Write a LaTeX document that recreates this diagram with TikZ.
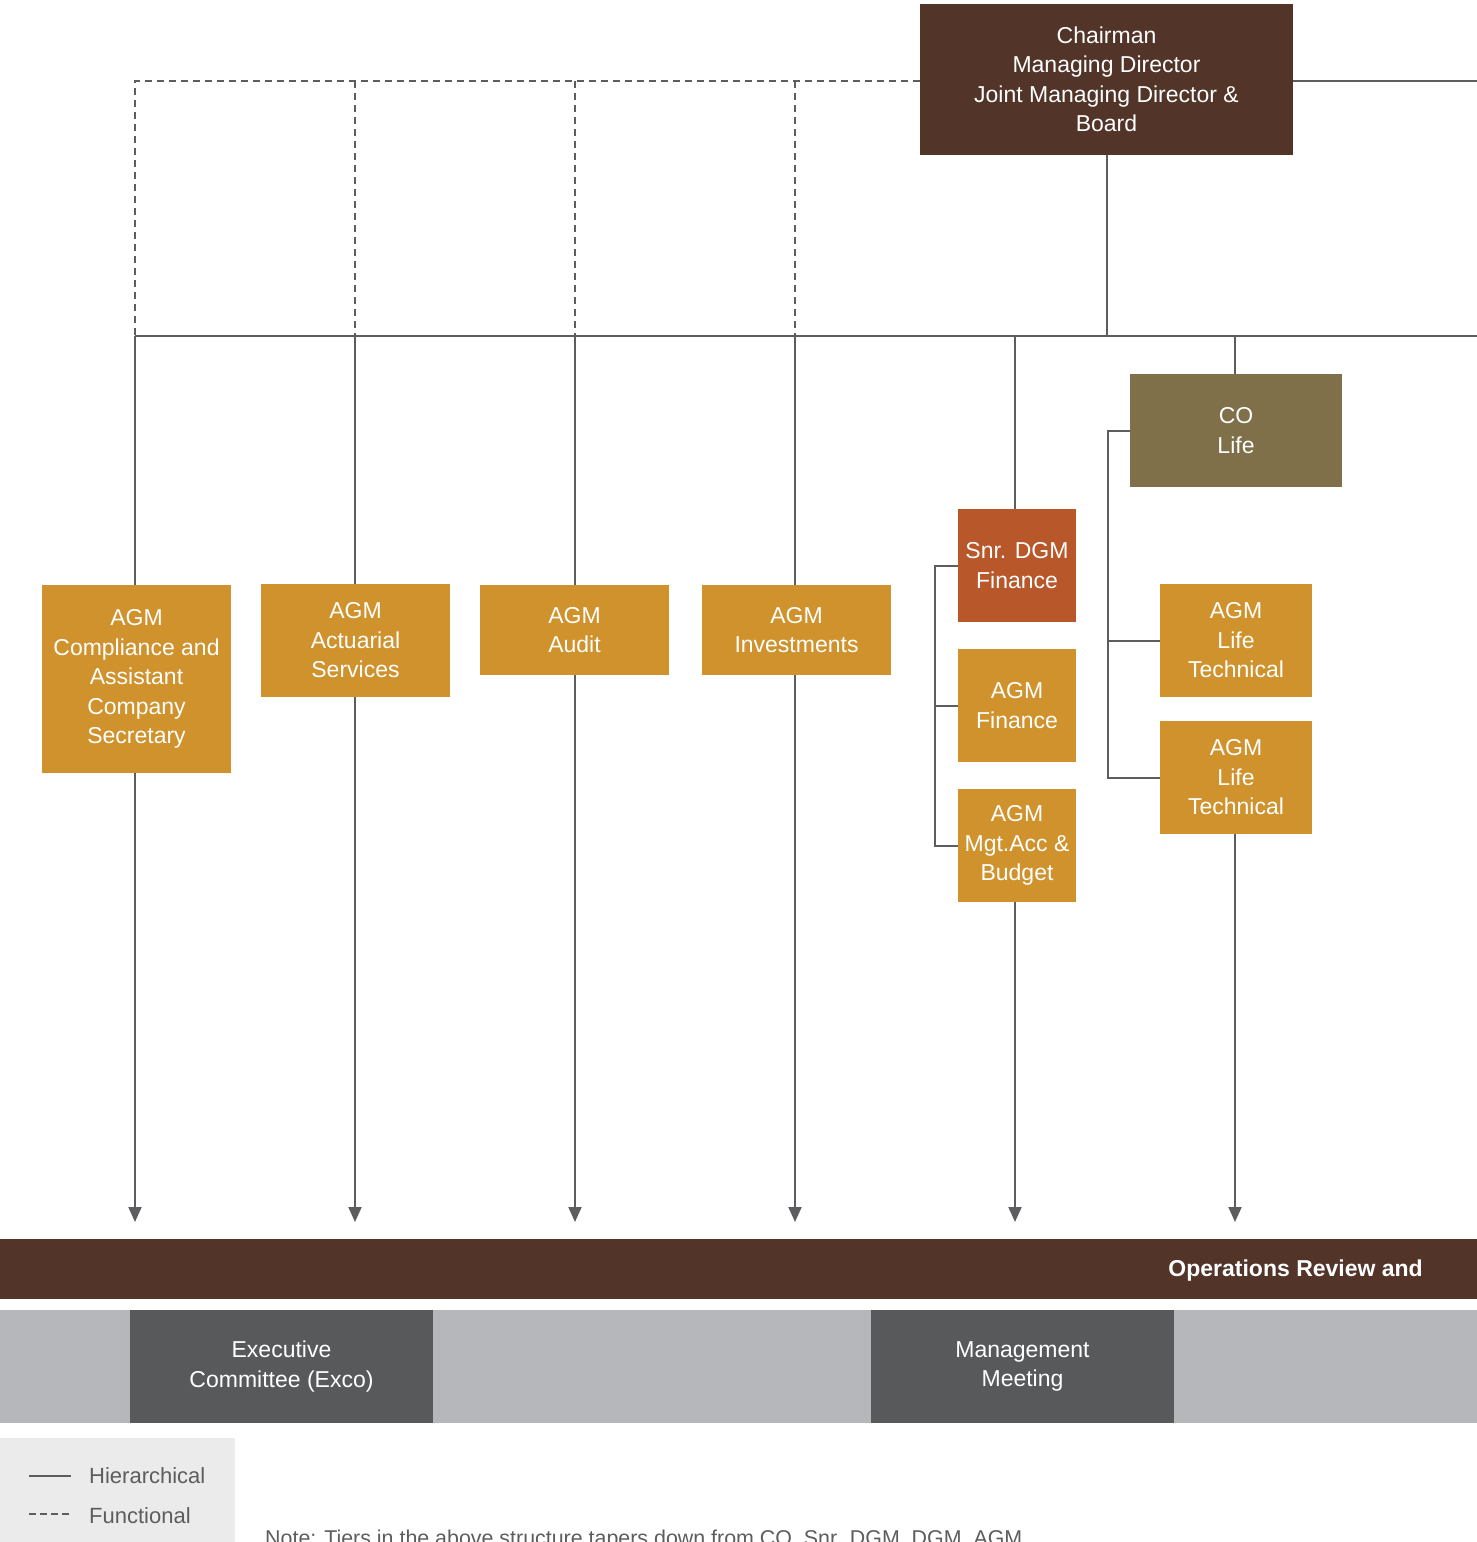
\documentclass[tikz,border=0pt]{standalone}
\usepackage{fontspec}
\setmainfont{Liberation Sans}
\usetikzlibrary{arrows.meta}

\definecolor{boardbrown}{HTML}{523429}
\definecolor{colife}{HTML}{7F704A}
\definecolor{snrorange}{HTML}{B8572A}
\definecolor{agmgold}{HTML}{CF922C}
\definecolor{bandgrey}{HTML}{B6B7BA}
\definecolor{meetgrey}{HTML}{58595B}
\definecolor{legendbg}{HTML}{EBEBEC}
\definecolor{linegrey}{HTML}{5D5D5F}

\tikzset{
  unit/.style={draw=none,inner sep=0pt,align=center,text=white,
    font=\fontsize{23}{29.5}\selectfont},
  agm/.style={unit,fill=agmgold},
  conn/.style={draw=linegrey,line width=2pt},
  func/.style={conn,dash pattern=on 7pt off 5pt},
  down/.style={conn,-{Triangle[length=15pt,width=13pt]}}
}

\begin{document}
\begin{tikzpicture}[x=1pt,y=-1pt]
 \useasboundingbox (0,0) rectangle (1477,1542);
 \clip (0,0) rectangle (1477,1542);

 % board and units
 \node[unit,fill=boardbrown,minimum width=373pt,minimum height=151pt] (board) at (1106.5,79.5)
   {Chairman\\Managing Director\\Joint Managing Director \&\\Board};
 \node[agm,minimum width=189pt,minimum height=188pt] (comp) at (136.5,679)
   {AGM\\Compliance and\\Assistant\\Company\\Secretary};
 \node[agm,minimum width=189pt,minimum height=113pt] (act) at (355.5,640.5)
   {AGM\\Actuarial\\Services};
 \node[agm,minimum width=189pt,minimum height=90pt] (aud) at (574.5,630)
   {AGM\\Audit};
 \node[agm,minimum width=189pt,minimum height=90pt] (inv) at (796.5,630)
   {AGM\\Investments};
 \node[unit,fill=snrorange,minimum width=118pt,minimum height=113pt] (snr) at (1017,565.5)
   {Snr. DGM\\Finance};
 \node[agm,minimum width=118pt,minimum height=113pt] (fin) at (1017,705.5)
   {AGM\\Finance};
 \node[agm,minimum width=118pt,minimum height=113pt] (mgt) at (1017,845.5)
   {AGM\\Mgt.Acc \&\\Budget};
 \node[unit,fill=colife,minimum width=212pt,minimum height=113pt] (co) at (1236,430.5)
   {CO\\Life};
 \node[agm,minimum width=152pt,minimum height=113pt] (tech1) at (1236,640.5)
   {AGM\\Life\\Technical};
 \node[agm,minimum width=152pt,minimum height=113pt] (tech2) at (1236,777.5)
   {AGM\\Life\\Technical};

 % bus and arrow ends
 \coordinate (busL) at (135,336);
 \coordinate (busR) at (1477,336);
 \coordinate (funcL) at (135,81);
 \coordinate (boardR) at (1477,81);
 \foreach \n/\x in {comp/135,act/355,aud/575,inv/795,mgt/1015,tech2/1235}
   \coordinate (end-\n) at (\x,1222);

 % hierarchical lines
 \draw[conn] (board.east |- boardR) -- (boardR);
 \draw[conn] (board.south) -- (board.south |- busL);
 \draw[conn] (busL) -- (busR);
 \foreach \n/\x in {comp/135,act/355,aud/575,inv/795,snr/1015,co/1235}
   \draw[conn] (\x,336) -- (\x,0 |- \n.north);
 \foreach \n/\x in {comp/135,act/355,aud/575,inv/795,mgt/1015,tech2/1235}
   \draw[down] (\x,0 |- \n.south) -- (end-\n);

 % brackets
 \draw[conn] (snr.west) -- (935,565.5) |- (mgt.west);
 \draw[conn] (935,705.5) -- (fin.west);
 \draw[conn] (co.west) -- (1108,430.5) |- (tech2.west);
 \draw[conn] (1108,640.5) -- (tech1.west);

 % functional lines
 \draw[func] (board.west |- funcL) -- (funcL) -- (busL);
 \foreach \x in {355,575,795}
   \draw[func] (\x,81) -- (\x,336);

 % operations band
 \fill[boardbrown] (0,1239) rectangle (1477,1299);
 \node[unit,anchor=east,font=\fontsize{23}{28}\selectfont\bfseries] (ops) at (1423,1271)
   {Operations Review and};

 % meetings
 \fill[bandgrey] (0,1310) rectangle (1477,1423);
 \node[unit,fill=meetgrey,minimum width=303pt,minimum height=113pt] (exco) at (281.5,1366.5)
   {Executive\\Committee (Exco)};
 \node[unit,fill=meetgrey,minimum width=303pt,minimum height=113pt] (mm) at (1022.5,1366.5)
   {Management\\Meeting};

 % legend
 \fill[legendbg] (0,1438) rectangle (235,1542);
 \coordinate (hierA) at (29,1476);
 \coordinate (hierB) at (71,1476);
 \coordinate (funcA) at (29,1514);
 \coordinate (funcB) at (71,1514);
 \draw[conn] (hierA) -- (hierB);
 \draw[conn,dash pattern=on 7pt off 4pt] (funcA) -- (funcB);
 \node[anchor=west,text=linegrey,font=\fontsize{22}{26}\selectfont,inner sep=0pt] (hier) at (89,1476) {Hierarchical};
 \node[anchor=west,text=linegrey,font=\fontsize{22}{26}\selectfont,inner sep=0pt] (fun) at (89,1516) {Functional};
 \node[anchor=base west,text=linegrey,font=\fontsize{21.4}{26}\selectfont,inner sep=0pt] (note) at (265,1545)
   {Note: Tiers in the above structure tapers down from CO, Snr. DGM, DGM, AGM};
\end{tikzpicture}
\end{document}
